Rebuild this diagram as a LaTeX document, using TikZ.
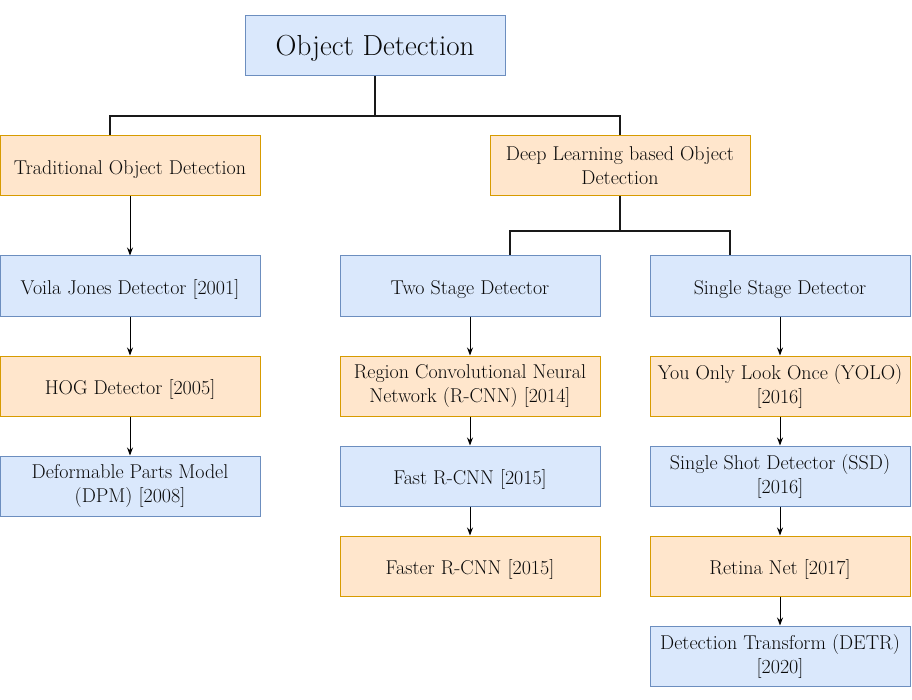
\documentclass[tikz,border=0pt]{standalone}
\usetikzlibrary{arrows.meta}
\definecolor{bfill}{HTML}{DAE8FC}
\definecolor{bline}{HTML}{6C8EBF}
\definecolor{ofill}{HTML}{FFE6CC}
\definecolor{oline}{HTML}{D79B00}
\definecolor{txt}{HTML}{0A0A0A}
\tikzset{
  box/.style={rectangle, minimum width=260pt, minimum height=60pt, inner sep=2pt,
    align=center, line width=1pt, text=txt, font=\fontsize{20}{24}\selectfont,
    execute at begin node={\rule{0pt}{21pt}}},
  bluebox/.style={box, fill=bfill, draw=bline},
  orangebox/.style={box, fill=ofill, draw=oline},
  tree/.style={line width=2pt, draw=black!90},
  arr/.style={line width=1pt, draw=black, -{Stealth[length=8pt,width=6pt]}}
}
\begin{document}
\begin{tikzpicture}[x=1pt,y=-1pt]
\useasboundingbox (0,0) rectangle (912,700);
\fill[white] (0,0) rectangle (912,700);
\node[bluebox, font=\fontsize{29}{32}\selectfont, execute at begin node={\rule{0pt}{25pt}}] (od) at (375,46) {Object Detection};
\node[orangebox] (trad) at (130,166) {Traditional Object Detection};
\node[orangebox] (dl) at (620,166) {Deep Learning based Object\\Detection};
\node[bluebox] (vj) at (130,286) {Voila Jones Detector [2001]};
\node[orangebox] (hog) at (130,386) {HOG Detector [2005]};
\node[bluebox] (dpm) at (130,486) {Deformable Parts Model\\(DPM) [2008]};
\node[bluebox] (two) at (470,286) {Two Stage Detector};
\node[orangebox] (rcnn) at (470,386) {Region Convolutional Neural\\Network (R-CNN) [2014]};
\node[bluebox] (fast) at (470,476) {Fast R-CNN [2015]};
\node[orangebox] (faster) at (470,566) {Faster R-CNN [2015]};
\node[bluebox] (single) at (780,286) {Single Stage Detector};
\node[orangebox] (yolo) at (780,386) {You Only Look Once (YOLO)\\{}[2016]};
\node[bluebox] (ssd) at (780,476) {Single Shot Detector (SSD)\\{}[2016]};
\node[orangebox] (retina) at (780,566) {Retina Net [2017]};
\node[bluebox] (detr) at (780,656) {Detection Transform (DETR)\\{}[2020]};
% tree connectors
\draw[tree] (od.south) -- ++(0,40) -| ([xshift=-20pt]trad.north);
\draw[tree] (od.south) -- ++(0,40) -| (dl.north);
\draw[tree] (dl.south) -- ++(0,35) -| ([xshift=40pt]two.north);
\draw[tree] (dl.south) -- ++(0,35) -| ([xshift=-50pt]single.north);
% arrows
\draw[arr] (trad) -- (vj);
\draw[arr] (vj) -- (hog);
\draw[arr] (hog) -- (dpm);
\draw[arr] (two) -- (rcnn);
\draw[arr] (rcnn) -- (fast);
\draw[arr] (fast) -- (faster);
\draw[arr] (single) -- (yolo);
\draw[arr] (yolo) -- (ssd);
\draw[arr] (ssd) -- (retina);
\draw[arr] (retina) -- (detr);
\end{tikzpicture}
\end{document}
